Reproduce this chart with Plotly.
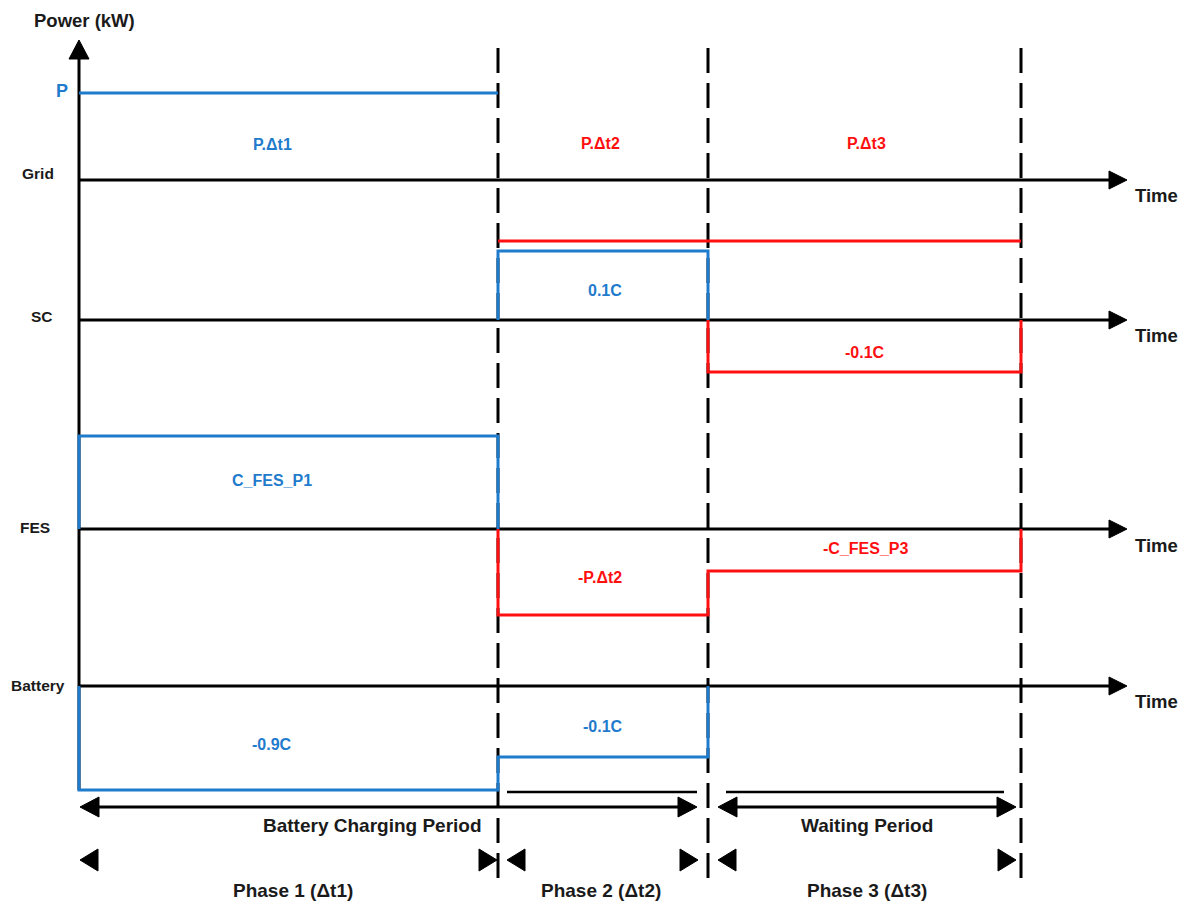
import plotly.graph_objects as go

W, H = 1182, 903

# ---- diagram data (pixel-derived units, y measured upward) ----
phase_t = [79, 498, 708, 1021]            # t0, t1, t2, t3 (time axis)
rows = ["Grid", "SC", "FES", "Battery"]
row_base = [723, 583, 374, 217]           # baseline (0 kW) of each row
# power level relative to the row baseline, per phase (None = nothing drawn)
blue_levels = {"Grid": [87, None, None], "SC": [None, 69, None],
               "FES": [93, None, None], "Battery": [-104, -71, None]}
red_levels = {"Grid": [None, -61, -61], "SC": [None, None, -52],
              "FES": [None, -86, -42], "Battery": [None, None, None]}
blue_texts = ["P.Δt1", "0.1C", "C_FES_P1", "-0.9C", "-0.1C"]
red_texts = ["P.Δt2", "P.Δt3", "-0.1C", "-P.Δt2", "-C_FES_P3"]
period_texts = ["Battery Charging Period", "Waiting Period"]
phase_texts = ["Phase 1 (Δt1)", "Phase 2 (Δt2)", "Phase 3 (Δt3)"]

BLUE = "#1f7bcc"
RED = "#ff1010"
BLACK = "#000000"
TXT = "#1a1a1a"
FONT = "Liberation Sans, Arial, sans-serif"

fig = go.Figure()


def line(xs, ys, color=BLACK, width=3, dash=None):
    fig.add_trace(go.Scatter(x=xs, y=ys, mode="lines", hoverinfo="skip",
                             line=dict(color=color, width=width, dash=dash,
                                       shape="linear"),
                             showlegend=False))


def tri(tx, ty, d, length=18, half=9):
    # filled triangle with its tip at (tx, ty), pointing in direction d
    if d == "r":
        xs, ys = [tx, tx - length, tx - length, tx], [ty, ty + half, ty - half, ty]
    elif d == "l":
        xs, ys = [tx, tx + length, tx + length, tx], [ty, ty + half, ty - half, ty]
    else:  # up
        xs, ys = [tx, tx - half, tx + half, tx], [ty, ty - length, ty - length, ty]
    fig.add_trace(go.Scatter(x=xs, y=ys, mode="lines", fill="toself",
                             fillcolor=BLACK, line=dict(color=BLACK, width=1),
                             hoverinfo="skip", showlegend=False))


def step_path(base, levels, verticals=True):
    xs, ys = [], []
    idx = [i for i, v in enumerate(levels) if v is not None]
    if not idx:
        return None
    i0, i1 = idx[0], idx[-1]
    if verticals:
        xs.append(phase_t[i0]); ys.append(base)
    for i in range(i0, i1 + 1):
        xs += [phase_t[i], phase_t[i + 1]]
        ys += [base + levels[i], base + levels[i]]
    if verticals:
        xs.append(phase_t[i1 + 1]); ys.append(base)
    return xs, ys


t0, t1, t2, t3 = phase_t
top_y = H - 40
bottom_dash = H - 878

# dashed phase boundaries
for t in phase_t[1:]:
    line([t, t], [bottom_dash, top_y], width=3, dash="25px,10px")

# time axes
axis_end = 1127
for b in row_base:
    line([t0, axis_end - 16], [b, b], width=3)
    tri(axis_end, b, "r", 18, 9)

# power axis
line([t0, t0], [H - 790, top_y - 16], width=3)
tri(t0, top_y, "u", 19, 10)

# step traces
for name, b in zip(rows, row_base):
    vert = name != "Grid"
    for lv, col in ((blue_levels[name], BLUE), (red_levels[name], RED)):
        p = step_path(b, lv, vert)
        if p:
            line(p[0], p[1], color=col, width=3)

# short black lines under battery trace
line([507, 697], [H - 792, H - 792], width=2.5)
line([726, 1004], [H - 792, H - 792], width=2.5)

# period double arrows
ya = H - 807
line([t0 + 10, 687], [ya, ya], width=3)
tri(t0 + 1, ya, "l", 19, 10)
tri(697, ya, "r", 19, 10)
line([728, 1006], [ya, ya], width=3)
tri(718, ya, "l", 19, 10)
tri(1016, ya, "r", 19, 10)

# phase triangles
yp = H - 860
for l_tip, r_tip in ((t0 + 1, 497), (507, 698), (718, 1016)):
    tri(l_tip, yp, "l", 18, 11)
    tri(r_tip, yp, "r", 18, 11)


def text(s, x, ypx, color=TXT, size=13, xanchor="center"):
    fig.add_annotation(x=x, y=H - ypx, text=s, showarrow=False,
                       xanchor=xanchor, yanchor="middle",
                       font=dict(family=FONT, size=size, color=color,
                                 weight="bold"))


text("Power (kW)", 84, 20, size=18.5)
text("P", 62, 91, color=BLUE, size=18)
for name, ypx, xc in zip(rows, [173, 316, 527, 685], [38, 42, 35, 38]):
    text(name, xc, ypx, size=15.5)
for ypx in [195, 335, 545, 701]:
    text("Time", 1133, ypx, size=18.5, xanchor="left")

for s, (x, ypx) in zip(blue_texts, [(272, 144), (605, 290), (272, 480),
                                     (272, 744), (603, 726)]):
    text(s, x, ypx, color=BLUE, size=16)
for s, (x, ypx) in zip(red_texts, [(600, 143), (866, 143), (865, 352),
                                    (600, 577), (865, 548)]):
    text(s, x, ypx, color=RED, size=16)

for s, x in zip(period_texts, [372, 867]):
    text(s, x, 825, size=19)
for s, x in zip(phase_texts, [293, 601, 867]):
    text(s, x, 890, size=19)

fig.update_layout(
    width=W, height=H, margin=dict(l=0, r=0, t=0, b=0),
    paper_bgcolor="white", plot_bgcolor="white",
    xaxis=dict(range=[0, W], visible=False, fixedrange=True),
    yaxis=dict(range=[0, H], visible=False, fixedrange=True),
    showlegend=False,
)

fig.write_html(
    "out.html",
    config={"displayModeBar": False},
    post_script="document.body.style.margin='0';"
                "document.body.style.overflow='hidden';",
)
